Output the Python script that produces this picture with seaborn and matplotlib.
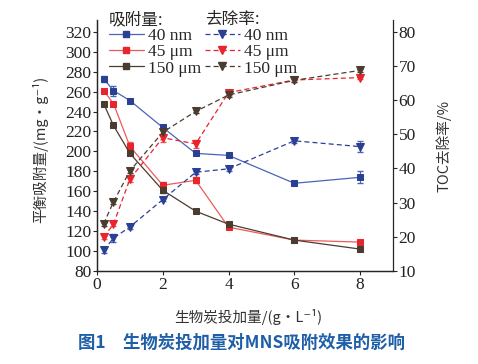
import matplotlib
matplotlib.use("Agg")
import matplotlib.pyplot as plt
import seaborn as sns
import pandas as pd
import numpy as np
from matplotlib.lines import Line2D

sns.set_style("ticks")
plt.rcParams['font.family'] = ['Liberation Serif', 'Noto Sans CJK SC', 'DejaVu Sans']
plt.rcParams['mathtext.fontset'] = 'stix'

# --- données ---
dose = [0.2, 0.5, 1, 2, 3, 4, 6, 8]
sizes = ["40 nm", "45 μm", "150 μm"]

q_40nm = [273, 261, 251, 224, 198, 196, 168, 174]
q_45um = [261, 248, 205, 166, 171, 124, 111, 109]
q_150um = [248, 226, 198, 161, 140, 127, 111, 102]
q_err_40nm = [3, 5, 2, 2, 2, 2, 2, 6]
q_err_45um = [2, 2, 4, 3, 3, 2, 2, 2]
q_err_150um = [2, 2, 2, 3, 2, 2, 2, 2]

toc_40nm = [16.1, 19.6, 22.9, 30.9, 38.9, 39.9, 48.1, 46.4]
toc_45um = [19.9, 23.7, 36.9, 49.0, 47.2, 62.2, 65.9, 66.6]
toc_150um = [23.8, 30.2, 39.3, 50.6, 56.7, 61.5, 65.8, 68.7]
toc_err_40nm = [0.8, 1.2, 0.5, 0.5, 0.5, 0.6, 0.6, 1.6]
toc_err_45um = [0.6, 0.6, 1.0, 1.2, 1.2, 0.6, 0.5, 0.5]
toc_err_150um = [0.5, 0.5, 0.6, 0.6, 0.5, 0.5, 0.5, 0.5]

colors = {"40 nm": "#2b3f95", "45 μm": "#e8242c", "150 μm": "#4b3c30"}
line_colors = {"40 nm": "#4b63b8", "45 μm": "#ee5a5a", "150 μm": "#4b3c30"}

df_q = pd.DataFrame({
    "dose": dose * 3,
    "q": q_40nm + q_45um + q_150um,
    "err": q_err_40nm + q_err_45um + q_err_150um,
    "size": sum([[s] * len(dose) for s in sizes], []),
})
df_t = pd.DataFrame({
    "dose": dose * 3,
    "toc": toc_40nm + toc_45um + toc_150um,
    "err": toc_err_40nm + toc_err_45um + toc_err_150um,
    "size": sum([[s] * len(dose) for s in sizes], []),
})

fig = plt.figure(figsize=(4.78, 3.64), dpi=100)
ax = fig.add_axes([0.203, 0.2555, 0.619, 0.69])
ax2 = ax.twinx()

for s in sizes:
    d = df_q[df_q["size"] == s]
    ax.errorbar(d["dose"], d["q"], yerr=d["err"], fmt="none",
                ecolor=line_colors[s], elinewidth=0.8, capsize=2, zorder=2)
    sns.lineplot(data=d, x="dose", y="q", ax=ax, color=line_colors[s],
                 lw=0.9, marker="s", markersize=5, markerfacecolor=colors[s],
                 markeredgecolor=colors[s], legend=False, zorder=3)

    d = df_t[df_t["size"] == s]
    ax2.errorbar(d["dose"], d["toc"], yerr=d["err"], fmt="none",
                 ecolor=line_colors[s], elinewidth=0.8, capsize=2, zorder=2)
    sns.lineplot(data=d, x="dose", y="toc", ax=ax2, color=colors[s],
                 lw=0.9, linestyle=(0, (4, 2.5)), marker="v", markersize=5.5,
                 markerfacecolor=colors[s], markeredgecolor=colors[s],
                 legend=False, zorder=3)

ax.set_xlim(0, 9)
ax.set_ylim(80, 332)
ax2.set_ylim(10, 10 + (332 - 80) * 70 / 240)
ax.set_xticks([0, 2, 4, 6, 8])
ax.set_yticks(range(80, 321, 20))
ax2.set_yticks(range(10, 81, 10))

for a in (ax, ax2):
    a.spines["top"].set_visible(False)
    a.tick_params(labelsize=12.5, length=3, width=0.8, pad=1, labelcolor="#222222")
    for sp in a.spines.values():
        sp.set_linewidth(0.9)
ax.spines["right"].set_visible(False)
ax.set_xlabel("")
ax.set_ylabel("")
ax2.set_ylabel("")

cjk = ['Noto Sans CJK SC', 'Liberation Serif', 'DejaVu Sans']
fig.text(0.52, 0.13, "生物炭投加量/(g·L⁻¹)", fontsize=10.5, family=cjk,
         ha="center", va="center", color="#333333")
fig.text(0.084, 0.59, "平衡吸附量/(mg·g⁻¹)", fontsize=10.5, family=cjk,
         ha="center", va="center", rotation=90, color="#333333")
fig.text(0.928, 0.60, "TOC去除率/%", fontsize=10.5, family=cjk,
         ha="center", va="center", rotation=90, color="#333333")

# légendes
h_q = [Line2D([], [], color=line_colors[s], lw=0.9, marker="s", markersize=5,
              markerfacecolor=colors[s], markeredgecolor=colors[s]) for s in sizes]
h_t = [Line2D([], [], color=colors[s], lw=0.9, linestyle=(0, (4, 2.5)), marker="v",
              markersize=5.5, markerfacecolor=colors[s], markeredgecolor=colors[s])
       for s in sizes]
leg_kw = dict(loc="upper left", frameon=False, fontsize=12.5, handlelength=2.0,
              handletextpad=0.25, labelspacing=0.0, borderaxespad=0, borderpad=0)
leg1 = ax2.legend(h_q, sizes, title="吸附量:", bbox_to_anchor=(0.04, 1.035), **leg_kw)
leg1.get_title().set_family(cjk)
leg1.get_title().set_fontsize(12)
leg1._legend_box.align = "left"
ax2.add_artist(leg1)
leg2 = ax2.legend(h_t, sizes, title="去除率:", bbox_to_anchor=(0.365, 1.035), **leg_kw)
leg2.get_title().set_family(cjk)
leg2.get_title().set_fontsize(12)
leg2._legend_box.align = "left"

fig.text(0.505, 0.058, "图1　生物炭投加量对MNS吸附效果的影响", fontsize=12.5,
         family=['Noto Sans CJK SC', 'DejaVu Sans'], fontweight="bold",
         color="#1f5fa8", ha="center", va="center")

fig.savefig("out.png", dpi=100)
